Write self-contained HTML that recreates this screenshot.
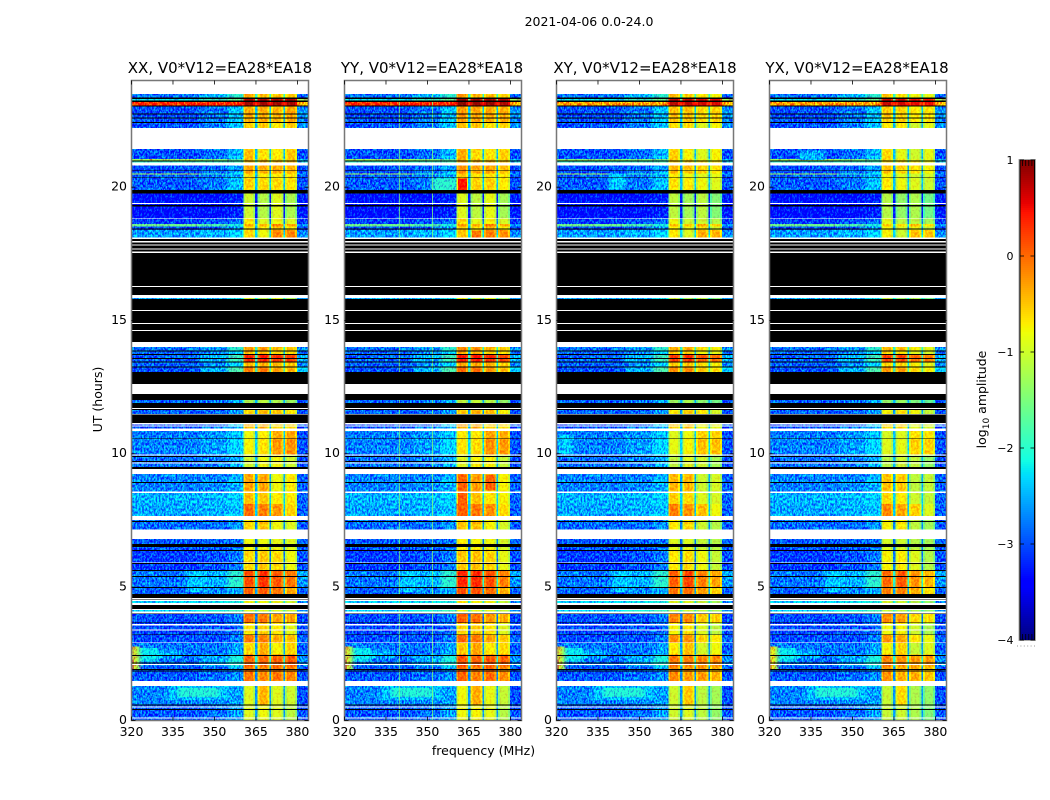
<!DOCTYPE html>
<html lang="en">
<head>
<meta charset="utf-8">
<title>2021-04-06 waterfall</title>
<style>
html,body{margin:0;padding:0;background:#fff;}
svg{display:block;}
text{font-family:"DejaVu Sans","Liberation Sans",sans-serif;fill:#000;}
</style>
</head>
<body>
<svg id="figure" xmlns="http://www.w3.org/2000/svg" width="1050" height="800" viewBox="0 0 1050 800">
  <defs>
    <clipPath id="plot-clip"><rect x="0" y="0" width="177" height="640"/></clipPath>
    <filter id="speckle-low" x="0" y="0" width="1" height="1" color-interpolation-filters="sRGB">
      <feGaussianBlur in="SourceGraphic" stdDeviation="2 0" result="b"/>
      <feTurbulence type="fractalNoise" baseFrequency="0.6 0.38" numOctaves="2" seed="4" result="n"/>
      <feColorMatrix in="n" type="matrix" values="0 0 0 0 .5  2.6 0 0 0 -.8  0 0 0 0 .5  0 0 0 0 1" result="g"/>
      <feComposite in="b" in2="g" operator="arithmetic" k1="0" k2="1" k3="0.8" k4="-0.4" result="m"/>
      <feComposite in="m" in2="SourceAlpha" operator="in"/>
    </filter>
    <filter id="speckle-edge" x="0" y="0" width="1" height="1" color-interpolation-filters="sRGB">
      <feTurbulence type="fractalNoise" baseFrequency="0.6 0.38" numOctaves="2" seed="7" result="n"/>
      <feColorMatrix in="n" type="matrix" values="0 0 0 0 .5  2.6 0 0 0 -.8  0 0 0 0 .5  0 0 0 0 1" result="g"/>
      <feComposite in="SourceGraphic" in2="g" operator="arithmetic" k1="0" k2="1" k3="0.8" k4="-0.4" result="m"/>
      <feComposite in="m" in2="SourceAlpha" operator="in"/>
    </filter>
    <filter id="speckle-high" x="0" y="0" width="1" height="1" color-interpolation-filters="sRGB">
      <feTurbulence type="fractalNoise" baseFrequency="0.5 0.38" numOctaves="2" seed="9" result="n"/>
      <feColorMatrix in="n" type="matrix" values="0 0 0 0 .5  2.6 0 0 0 -.8  0 0 0 0 .5  0 0 0 0 1" result="g"/>
      <feComposite in="SourceGraphic" in2="g" operator="arithmetic" k1="0" k2="1" k3="0.3" k4="-0.15" result="m"/>
      <feComposite in="m" in2="SourceAlpha" operator="in"/>
    </filter>
  </defs>

  <text x="589" y="26" font-size="12.5" text-anchor="middle">2021-04-06 0.0-24.0</text>

  <g id="panel-0" transform="translate(131,80)">
    <text x="89" y="-7" font-size="15" text-anchor="middle">XX, V0*V12=EA28*EA18</text>
  </g>
  <g id="panel-1" transform="translate(344,80)">
    <text x="88" y="-7" font-size="15" text-anchor="middle">YY, V0*V12=EA28*EA18</text>
  </g>
  <g id="panel-2" transform="translate(556,80)">
    <text x="89" y="-7" font-size="15" text-anchor="middle">XY, V0*V12=EA28*EA18</text>
  </g>
  <g id="panel-3" transform="translate(769,80)">
    <text x="88" y="-7" font-size="15" text-anchor="middle">YX, V0*V12=EA28*EA18</text>
  </g>

  <text x="483.5" y="755" font-size="12.5" text-anchor="middle">frequency (MHz)</text>
  <text transform="translate(102,399.5) rotate(-90)" font-size="12.5" text-anchor="middle">UT (hours)</text>

  <g id="colorbar"></g>
  <text transform="translate(986,399.5) rotate(-90)" font-size="12.5" text-anchor="middle">log<tspan font-size="9" dy="3">10</tspan><tspan dy="-3"> amplitude</tspan></text>
  <line x1="1017" y1="646" x2="1036" y2="646" stroke="#999" stroke-width="1" stroke-dasharray="1 2.4"/>
</svg>

<script>
// ---- axis tick labels ----
const xTickValues = [320, 335, 350, 365, 380];
const yTickValues = [0, 5, 10, 15, 20];
const colorbarTickValues = [-4, -3, -2, -1, 0, 1];
const colorbarMinorFractions = [0.2, 0.4, 0.6, 0.8];

// ---- frequency layout of the spectrum (MHz) ----
const subBandStart = [360.6, 365.7, 370.7, 375.7];
const subBandEnd = [364.8, 370.1, 375.1, 380];
const lowBandEdges = [320, 345, 355, 360.6];
const edgeBandEdges = [380, 384];

// ---- heatmap rows: hour edges, then log10 amplitude for each row ----
const rowEdges = [0,.56,1.47,2.0,2.45,2.91,3.2,3.65,4.0,4.32,
  4.6,4.99,5.6,6.4,6.8,7.5,8.1,8.52,9.23,9.95,
  10.54,10.94,11.13,11.67,12.0,13.05,13.26,13.44,13.7,13.86,
  14.0,15.85,18.04,18.38,18.5,18.6,18.8,19.75,20.3,20.45,
  20.5,20.79,20.94,21.04,21.41,22.39,23.0,23.18,23.29,23.48];
const rowLow = [-2.95,-2.75,-2.95,-2.85,-2.8,-3.0,-3.05,-3.0,-2.3,-2.3,
  -2.9,-2.8,-3.1,-2.95,-2.85,-2.55,-2.5,-2.75,-2.85,-2.75,
  -2.75,-3.0,-2.9,-2.9,-3.0,-3.0,-2.9,-2.9,-2.9,-2.8,
  -2.5,-2.5,-2.6,-3.0,-1.6,-3.1,-3.4,-2.95,-2.9,-1.2,
  -3.0,-2.0,-1.3,-3.0,-3.0,-3.0,.35,-2.2,-2.8];
const rowMid = [-2.85,-2.7,-2.85,-2.6,-2.8,-3.0,-3.0,-2.95,-2.1,-2.2,
  -2.7,-2.5,-3.0,-2.9,-2.85,-2.5,-2.45,-2.7,-2.75,-2.6,
  -2.65,-2.8,-2.9,-2.8,-2.8,-2.5,-2.7,-2.5,-2.7,-2.6,
  -2.4,-2.4,-2.5,-2.9,-1.8,-3.0,-3.4,-2.8,-2.75,-1.9,
  -2.85,-2.0,-1.5,-2.85,-2.75,-2.8,.35,-1.9,-2.5];
const rowNear = [-2.6,-2.6,-2.7,-2.1,-2.6,-2.8,-2.9,-2.8,-1.9,-2.1,
  -2.5,-2.0,-2.8,-2.8,-2.7,-2.4,-2.35,-2.5,-2.5,-2.3,
  -2.4,-2.5,-2.6,-2.5,-2.5,-1.8,-2.3,-1.9,-2.4,-2.0,
  -2.2,-2.2,-2.3,-2.6,-2.1,-2.8,-3.25,-2.4,-2.5,-2.2,
  -2.6,-1.9,-1.8,-2.45,-2.4,-2.4,.4,-1.6,-2.0];
const rowEdgeBand = [-3,-3,-3,-2.7,-2.9,-2.9,-3,-3,-2.6,-2.7,
  -2.9,-2.6,-3,-2.9,-2.95,-2.9,-2.9,-2.9,-3,-3,
  -3,-3,-3,-3,-3,-2.3,-2.7,-2.5,-2.8,-2.7,
  -2.7,-2.7,-2.7,-3.1,-2.6,-3.1,-3.3,-3,-3,-2.6,
  -3,-2.4,-2.6,-3,-2.7,-2.7,-.4,-1.3,-2.9];
const rowBand1 = [-.9,-.9,-.05,.05,-.6,-.1,-.65,0,-.9,-.8,
  .05,.15,-.6,-.8,-.6,0,-.45,-.3,-1,-.75,
  -.8,-.4,-.6,-1.2,-1.2,-.1,-.4,.35,-.45,-.25,
  -.9,-.9,-.6,-.6,-.4,-.7,-1,-.55,-.6,-.6,
  -.3,-.4,-.4,-.45,-.55,-.35,.85,.8,-.3];
const rowBand2 = [-.8,-.4,-.15,0,-.35,-.1,-.55,-.05,-.9,-.8,
  .1,.3,-.5,-.8,-.5,-.1,-.5,-.3,-.8,-.65,
  -.7,-.4,-.45,-1.1,-1.1,-.05,-.35,.4,-.4,-.25,
  -1.1,-1.1,-.8,-.7,-.4,-.9,-1.15,-.6,-.7,-.7,
  -.35,-.4,-.5,-.65,-.5,-.35,.85,.8,-.4];
const rowBand3 = [-.9,-.9,-.05,.05,-.75,-.35,-.7,-.3,-.9,-.85,
  -.05,.1,-.6,-.85,-.8,-.25,-.7,-.8,-.8,-.25,
  -.35,-.6,-.5,-1.2,-1.2,-.3,-.45,.3,-.6,-.45,
  -.9,-.9,-.15,-.5,-.1,-.8,-.9,-.6,-.7,-.7,
  -.35,-.4,-.6,-.7,-.7,-.4,.85,.8,-.5];
const rowBand4 = [-1.1,-1,-.15,.1,-.55,-.45,-.85,-.3,-1,-1,
  -.3,-.05,-.8,-.9,-.9,-.55,-.7,-.7,-1,-.2,
  -.3,-.6,-.7,-1.3,-1.3,-.4,-.5,.25,-.6,-.5,
  -1.2,-1.2,-.15,-.7,-.3,-.9,-1.2,-.65,-.6,-.6,
  -.4,-.4,-.5,-.5,-.5,-.3,.85,.8,-.5];

// ---- per-polarisation amplitude shift for each sub-band (XX, YY, XY, YX) ----
const panelBand1Shift = [0, .1, -.1, -.15];
const panelBand2Shift = [0, .05, -.1, -.2];
const panelBand3Shift = [0, .05, -.2, -.3];
const panelBand4Shift = [0, -.05, -.25, -.35];

// ---- localised features: panel (-1 = all), MHz range, hour range, amplitude ----
const patchPanel = [-1,-1,-1,-1,-1,-1,-1,1,1,1,1,1,2,3,2,3,2,0,0,1,2,3];
const patchFreqStart = [333,337,320,321,323,330,340,361.2,361.2,371.2,352,366.2,339,331,321,320,320,327,340,361.2,320,320];
const patchFreqEnd = [356,352,321,323,330,338,347,364.4,364.4,374.8,360.6,369.6,345,340,326,360.6,360.6,328,341,364.4,360.6,322];
const patchHourStart = [.75,.86,1.9,1.9,2.2,2.3,4.8,19.8,7.5,8.6,19.8,18.1,19.9,21.0,9.95,23.0,23.0,21.0,20.45,4.99,21.0,1.9];
const patchHourEnd = [1.3,1.2,2.75,2.75,2.7,2.6,5.6,20.3,9.2,9.2,20.3,18.35,20.5,21.35,10.7,23.18,23.18,21.04,20.5,5.6,21.04,2.75];
const patchLevel = [-2.45,-2.05,-.1,-1.1,-2.2,-2.5,-2.4,.45,.05,.05,-2.0,-.05,-2.35,-2.5,-2.35,-.3,-.3,.5,.5,.35,-1.5,-.6];

// ---- narrow RFI channels ----
const rfiPanel = [1, 1];
const rfiFreq = [340, 352];
const rfiLevel = [-1.5, -1.5];

// ---- flagged time ranges (hours), common to all polarisations ----
const whiteStart = [23.475,21.41,20.79,19.35,18.80,18.04,17.91,17.79,17.65,17.52,16.24,15.83,15.34,14.85,14.59,13.99,12.23,11.67,11.45,11.09,11.0,10.84,9.91,9.62,9.23,8.52,7.5,6.79,5.89,4.54,4.47,4.32,4.13,4.0,3.55,3.36,2.88,2.06,1.28,.47,.05];
const whiteEnd = [24,22.2,20.91,19.39,18.83,18.09,17.96,17.84,17.69,17.56,16.28,15.94,15.38,14.89,14.63,14.18,12.6,11.70,11.48,11.13,11.04,10.94,9.95,9.65,9.42,8.56,7.65,7.14,5.91,4.58,4.51,4.39,4.16,4.06,3.6,3.40,2.91,2.1,1.47,.5,.1];
const blackStart = [23.29,23.18,23.0,22.71,22.56,22.39,20.94,20.59,20.34,19.75,19.25,18.4,17.96,17.84,17.69,17.56,16.28,15.94,15.38,14.89,14.63,14.18,13.82,13.69,13.54,13.40,13.22,12.6,12.0,11.70,11.63,11.13,10.54,9.86,9.68,9.42,8.89,7.43,6.49,6.34,5.85,5.58,5.37,4.95,4.58,4.51,4.16,3.98,3.63,3.19,2.4,2.11,1.88,1.82,.54,.38];
const blackEnd = [23.34,23.24,23.05,22.75,22.59,22.43,20.99,20.61,20.36,19.88,19.31,18.44,18.04,17.91,17.79,17.65,17.52,16.24,15.79,15.34,14.85,14.59,13.86,13.73,13.58,13.44,13.26,13.05,12.23,11.89,11.67,11.45,10.56,9.90,9.71,9.48,8.93,7.46,6.6,6.38,5.89,5.63,5.4,4.99,4.73,4.54,4.32,4.0,3.65,3.21,2.44,2.15,1.91,1.86,.58,.41];

// ---- axis functions ----
const SVGNS = 'http://www.w3.org/2000/svg';
const plotWidth = 177;
const plotHeight = 640;
const blurBleed = 8;
function xScale(mhz) { return (mhz - 320) / 64 * plotWidth; }
function yScale(hour) { return (24 - hour) / 24 * plotHeight; }
function jetChannel(t, points) {
  for (let i = 1; i < points.length; i++) {
    if (t <= points[i][0]) {
      const a = points[i - 1], b = points[i];
      return a[1] + (b[1] - a[1]) * (t - a[0]) / (b[0] - a[0]);
    }
  }
  return points[points.length - 1][1];
}
function colorOf(level) {
  const t = Math.max(0, Math.min(1, (level + 4) / 5));
  const r = jetChannel(t, [[0,0],[.35,0],[.66,1],[.89,1],[1,.5]]);
  const g = jetChannel(t, [[0,0],[.125,0],[.375,1],[.64,1],[.91,0],[1,0]]);
  const b = jetChannel(t, [[0,.5],[.11,1],[.34,1],[.65,0],[1,0]]);
  return 'rgb(' + Math.round(r * 255) + ',' + Math.round(g * 255) + ',' + Math.round(b * 255) + ')';
}
function addRect(parent, x0, x1, yTop, yBottom, fill, name) {
  const el = document.createElementNS(SVGNS, 'rect');
  el.setAttribute('x', Math.min(x0, x1).toFixed(2));
  el.setAttribute('y', Math.min(yTop, yBottom).toFixed(2));
  el.setAttribute('width', Math.abs(x1 - x0).toFixed(2));
  el.setAttribute('height', Math.abs(yBottom - yTop).toFixed(2));
  el.setAttribute('fill', fill);
  el.setAttribute('shape-rendering', 'crispEdges');
  
  
  parent.appendChild(el);
  return el;
}
function addLine(parent, x1, y1, x2, y2, stroke, width, name) {
  const el = document.createElementNS(SVGNS, 'line');
  el.setAttribute('x1', x1);
  el.setAttribute('y1', y1);
  el.setAttribute('x2', x2);
  el.setAttribute('y2', y2);
  el.setAttribute('stroke', stroke);
  el.setAttribute('stroke-width', width);
  
  
  parent.appendChild(el);
  return el;
}
function addText(parent, x, y, anchor, size, content, name) {
  const el = document.createElementNS(SVGNS, 'text');
  el.setAttribute('x', x);
  el.setAttribute('y', y);
  el.setAttribute('text-anchor', anchor);
  el.setAttribute('font-size', size);
  
  
  el.textContent = content;
  parent.appendChild(el);
  return el;
}
function addGroup(parent, name, filter) {
  const el = document.createElementNS(SVGNS, 'g');
  if (filter) el.setAttribute('filter', filter);
  
  
  parent.appendChild(el);
  return el;
}

const bandEdgeDrop = 0.3;
const bandEdgeInset = 0.7;

function drawPanel(p) {
  const root = document.getElementById('panel-' + p);
  const clipWrap = addGroup(root, 'heatmap-clip', null);
  clipWrap.setAttribute('clip-path', 'url(#plot-clip)');
  const lowGroup = addGroup(clipWrap, 'low-band-heatmap', 'url(#speckle-low)');
  const edgeGroup = addGroup(clipWrap, 'edge-band-heatmap', 'url(#speckle-edge)');
  const highGroup = addGroup(clipWrap, 'high-band-heatmap', 'url(#speckle-high)');
  const bandRows = [rowBand1, rowBand2, rowBand3, rowBand4];
  const bandShifts = [panelBand1Shift, panelBand2Shift, panelBand3Shift, panelBand4Shift];

  for (let r = 0; r < rowLow.length; r++) {
    const yTop = yScale(rowEdges[r + 1]);
    const yBottom = yScale(rowEdges[r]);
    const lowLevels = [rowLow[r], rowMid[r], rowNear[r]];
    for (let c = 0; c < lowLevels.length; c++) {
      const cellLeft = xScale(lowBandEdges[c]) - (c === 0 ? blurBleed : 0);
      const cellRight = xScale(lowBandEdges[c + 1]) + (c === lowLevels.length - 1 ? blurBleed : 0);
      addRect(lowGroup, cellLeft, cellRight, yTop, yBottom, colorOf(lowLevels[c]), 'heat-cell-low');
    }
    addRect(edgeGroup, xScale(edgeBandEdges[0]), xScale(edgeBandEdges[1]), yTop, yBottom, colorOf(rowEdgeBand[r]), 'heat-cell-edge');
    for (let b = 0; b < subBandStart.length; b++) {
      const level = bandRows[b][r] + bandShifts[b][p];
      const gapEnd = b + 1 < subBandStart.length ? subBandStart[b + 1] : subBandEnd[b];
      if (gapEnd > subBandEnd[b]) {
        addRect(highGroup, xScale(subBandEnd[b]), xScale(gapEnd), yTop, yBottom, colorOf(rowNear[r]), 'heat-cell-gap');
      }
      addRect(highGroup, xScale(subBandStart[b]), xScale(subBandEnd[b]), yTop, yBottom, colorOf(level - bandEdgeDrop), 'heat-cell-band-edge');
      addRect(highGroup, xScale(subBandStart[b] + bandEdgeInset), xScale(subBandEnd[b] - bandEdgeInset), yTop, yBottom, colorOf(level), 'heat-cell-band');
    }
  }

  for (let i = 0; i < patchLevel.length; i++) {
    if (patchPanel[i] !== -1 && patchPanel[i] !== p) continue;
    const target = patchFreqStart[i] < 360 ? lowGroup : highGroup;
    addRect(target, xScale(patchFreqStart[i]), xScale(patchFreqEnd[i]), yScale(patchHourEnd[i]), yScale(patchHourStart[i]), colorOf(patchLevel[i]), 'heat-patch');
  }

  for (let i = 0; i < rfiFreq.length; i++) {
    if (rfiPanel[i] !== p) continue;
    addLine(root, xScale(rfiFreq[i]), yScale(rowEdges[rowEdges.length - 1]), xScale(rfiFreq[i]), plotHeight, colorOf(rfiLevel[i]), 0.8, 'rfi-channel');
  }

  const maskGroup = addGroup(root, 'flag-masks', null);
  for (let i = 0; i < whiteStart.length; i++) {
    addRect(maskGroup, 0, plotWidth, yScale(whiteEnd[i]), yScale(whiteStart[i]), '#ffffff', 'flag-white');
  }
  for (let i = 0; i < blackStart.length; i++) {
    addRect(maskGroup, 0, plotWidth, yScale(blackEnd[i]), yScale(blackStart[i]), '#000000', 'flag-black');
  }

  const frame = document.createElementNS(SVGNS, 'rect');
  frame.setAttribute('x', 0.5);
  frame.setAttribute('y', 0.5);
  frame.setAttribute('width', plotWidth);
  frame.setAttribute('height', plotHeight);
  frame.setAttribute('fill', 'none');
  frame.setAttribute('stroke', '#777');
  frame.setAttribute('stroke-width', 1.5);
  
  
  root.appendChild(frame);

  xTickValues.forEach(function (tick) {
    const x = xScale(tick) + 0.5;
    addLine(root, x, 0.5, x, 4.5, '#000', 0.8, 'x-tick-top');
    addLine(root, x, plotHeight + 0.5, x, plotHeight - 3.5, '#000', 0.8, 'x-tick-bottom');
    addText(root, x, plotHeight + 16, 'middle', 12.5, String(tick), 'x-tick-label');
  });
  yTickValues.forEach(function (tick) {
    const y = yScale(tick) + 0.5;
    addLine(root, 0.5, y, 4.5, y, '#000', 0.8, 'y-tick-left');
    addLine(root, plotWidth + 0.5, y, plotWidth - 3.5, y, '#000', 0.8, 'y-tick-right');
    addText(root, -4, y + 3.3, 'end', 12.5, String(tick), 'y-tick-label');
  });
}

function colorbarY(level) { return 160 + (1 - level) / 5 * 480; }

function drawColorbar() {
  const root = document.getElementById('colorbar');
  const left = 1019.5;
  const right = 1035;
  for (let py = 160; py < 640; py += 2) {
    const level = 1 - (py + 1 - 160) / 480 * 5;
    addRect(root, left, right, py, py + 2, colorOf(level), 'colorbar-step');
  }
  addLine(root, left + 0.5, 160, left + 0.5, 640, '#000', 1, 'colorbar-edge-left');
  addLine(root, right - 0.5, 160, right - 0.5, 640, '#000', 1, 'colorbar-edge-right');
  const outline = document.createElementNS(SVGNS, 'rect');
  outline.setAttribute('x', left - 0.5);
  outline.setAttribute('y', 159.5);
  outline.setAttribute('width', right - left + 1);
  outline.setAttribute('height', 481);
  outline.setAttribute('fill', 'none');
  outline.setAttribute('stroke', '#aaa');
  outline.setAttribute('stroke-width', 1);
  
  
  root.appendChild(outline);
  colorbarTickValues.forEach(function (tick) {
    const y = colorbarY(tick);
    addLine(root, left, y, left + 4.5, y, '#000', 0.8, 'colorbar-tick-left');
    addLine(root, right, y, right - 4.5, y, '#000', 0.8, 'colorbar-tick-right');
    const label = tick < 0 ? '\u2212' + Math.abs(tick) : String(tick);
    addText(root, 1013.5, y + 3.8, 'end', 11, label, 'colorbar-tick-label');
  });
  colorbarMinorFractions.forEach(function (fraction) {
    const x = left + (right - left) * fraction;
    addLine(root, x, 160, x, 166, '#000', 0.8, 'colorbar-minor-tick-top');
    addLine(root, x, 640, x, 634, '#000', 0.8, 'colorbar-minor-tick-bottom');
  });
}

[0, 1, 2, 3].forEach(drawPanel);
drawColorbar();
</script>
</body>
</html>
